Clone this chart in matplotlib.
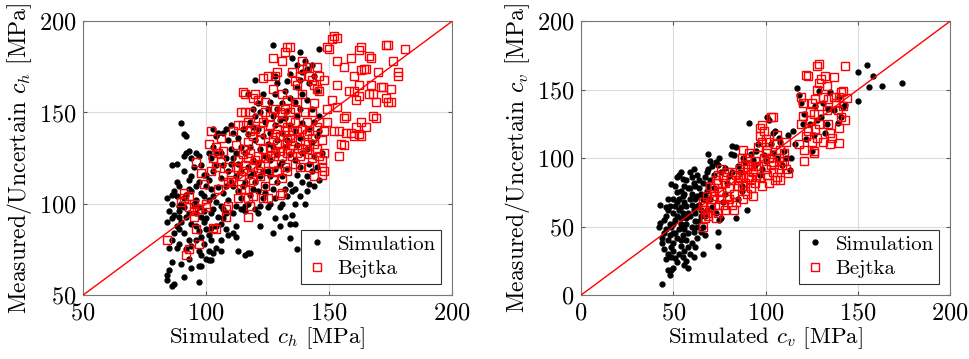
import numpy as np
import matplotlib.pyplot as plt

plt.rcParams['font.family'] = 'serif'
plt.rcParams['font.serif'] = ['cmr10']
plt.rcParams['mathtext.fontset'] = 'cm'
plt.rcParams['axes.formatter.use_mathtext'] = True

# left panel: c_h, Simulation (x, y)
sim_h = [
    (84,58),(84,61),(86,55),(87,56),(85,64),(86,68),(85,76),(84,90),(85,96),(84,103),(86,100),(86,105),
    (87,107),(88,104),(86,92),(87,94),(88,88),(89,86),(86,121),(88,122),(88,112),(89,96),(89,99),(89,93),
    (87,84),(86,80),(88,76),(89,78),(89,110),
    (90,144),(91,138),(92,137),(92,128),(91,126),(93,129),(91,118),(93,113),(94,115),(90,100),(91,98),
    (92,93),(93,95),(94,89),(92,105),(94,107),(90,90),(91,84),(93,80),(94,77),(92,75),(90,67),(91,60),
    (94,65),(93,70),(95,100),(95,120),(94,125),(93,108),(91,103),
    (96,128),(97,126),(98,121),(96,110),(97,112),(98,106),(99,104),(97,98),(96,95),(98,93),(99,90),(96,88),
    (97,85),(98,82),(96,80),(99,78),(97,74),(98,72),(97,66),(98,66),(97,57),(100,70),(100,110),(99,116),
    (96,102),(100,86),(99,96),
    (101,69),(102,69),(101,74),(103,73),(104,76),(102,80),(101,83),(100,92),(102,95),(103,97),(101,102),
    (103,104),(104,101),(102,108),(101,113),(100,116),(103,118),(104,121),(102,125),(104,128),(103,131),
    (105,139),(104,137),(103,141),(101,128),(105,109),(105,93),(104,88),(102,87),
    (106,89),(107,92),(108,95),(106,99),(109,102),(107,106),(108,110),(106,114),(109,118),(107,121),
    (108,125),(106,128),(110,130),(109,135),(107,139),(108,141),(110,143),(106,80),(108,86),(109,83),
    (107,97),(110,112),(110,122),(106,74),
    (111,84),(112,82),(113,74),(111,95),(112,99),(114,103),(113,107),(111,110),(112,115),(114,118),
    (113,122),(111,125),(112,128),(114,131),(113,136),(111,139),(115,141),(114,97),(115,110),(112,88),
    (116,72),(117,73),(118,73),(116,96),(117,100),(118,105),(119,108),(116,112),(118,115),(117,120),
    (119,124),(116,128),(118,131),(120,135),(117,138),(119,142),(118,145),(120,148),(119,152),(120,168),
    (117,160),(116,99),(120,97),(119,117),
    (121,95),(122,99),(123,103),(121,107),(124,110),(122,115),(123,118),(121,122),(124,126),(122,130),
    (125,133),(123,137),(121,141),(124,145),(122,150),(121,155),(125,152),(123,160),(124,106),(125,98),
    (122,88),(125,118),(120,112),
    (127,84),(126,100),(128,103),(127,108),(129,112),(126,115),(128,119),(126,124),(129,127),(127,131),
    (129,135),(126,139),(128,143),(127,148),(129,152),(126,156),(128,160),(129,166),(128,170),(127,187),
    (130,88),(130,98),(130,121),(130,146),(128,92),
    (131,100),(133,104),(132,108),(134,111),(131,115),(133,119),(131,123),(134,127),(132,131),(133,135),
    (131,139),(134,143),(132,147),(133,151),(131,155),(134,158),(132,162),(133,167),(134,81),(134,89),
    (132,93),(135,94),(134,171),(135,180),(135,107),
    (136,100),(136,89),(137,75),(138,104),(136,108),(139,112),(137,116),(138,120),(136,124),(139,128),
    (137,132),(138,136),(136,140),(139,144),(137,148),(138,152),(136,156),(139,160),(137,164),(138,168),
    (139,172),(138,183),(140,100),(140,178),(137,176),
    (141,107),(142,111),(141,115),(143,118),(142,122),(144,126),(141,130),(143,134),(145,137),(142,141),
    (144,145),(146,148),(143,152),(141,157),(145,162),(142,166),(144,170),(141,174),(143,176),(146,185),
    (146,113),(145,120),(147,128),(144,110),(146,140),
]

# left panel: c_h, Bejtka
bej_h = [
    (84,80),(90,101),(91,103),(91,106),(92,72),(93,75),(93,98),(95,100),(95,96),(96,86),(97,78),(96,123),
    (98,117),(99,111),(100,98),(100,100),(93,104),(97,97),(95,93),
    (101,133),(102,140),(103,87),(104,86),(105,108),(104,120),(102,118),(103,125),(106,136),(107,129),
    (108,97),(108,93),(109,99),(107,115),(105,128),(106,123),(109,112),(110,113),(109,120),(104,131),
    (111,140),(112,120),(113,124),(114,115),(111,112),(113,103),(115,161),(116,160),(116,150),(117,145),
    (115,143),(116,130),(118,128),(117,125),(119,120),(115,118),(118,112),(116,108),(117,103),(118,99),
    (117,93),(119,104),(119,158),(120,160),(118,150),(120,141),(114,150),(112,132),(113,143),
    (113,119),(115,127),(117,134),(119,137),(114,108),(116,121),(118,140),(120,124),(119,113),
    (121,157),(122,135),(123,145),(124,150),(123,169),(125,170),(121,118),(122,115),(124,110),(123,103),
    (125,103),(126,131),(127,135),(128,138),(129,141),(126,148),(127,163),(128,170),(129,172),(127,180),
    (128,152),(130,150),(121,126),(124,125),(125,118),(129,118),(127,113),(126,126),(122,140),
    (122,121),(123,130),(125,138),(126,143),(128,128),(129,133),(124,156),(121,147),(127,122),(130,129),
    (131,178),(132,183),(133,186),(134,186),(131,160),(132,152),(133,157),(134,150),(131,145),(132,140),
    (133,135),(134,130),(131,126),(132,120),(133,118),(131,114),(130,105),(131,106),(135,172),(136,167),
    (137,165),(138,170),(139,178),(136,145),(137,140),(138,135),(139,130),(135,126),(136,122),(138,120),
    (137,156),(139,160),(140,150),(134,136),(135,140),(133,128),(139,174),
    (132,133),(134,146),(136,152),(138,126),(135,132),(131,149),(137,128),(139,141),(133,142),(130,137),
    (141,175),(142,170),(143,168),(144,165),(145,175),(146,170),(145,163),(144,155),(143,150),(141,145),
    (142,140),(143,136),(145,130),(146,126),(147,120),(148,118),(147,124),(148,140),(149,145),(149,152),
    (149,186),(150,185),(147,135),(144,115),(141,130),(145,142),(148,168),(146,162),(143,125),
    (141,138),(142,127),(144,133),(146,145),(147,116),(148,128),(142,120),(140,133),
    (152,192),(153,191),(151,190),(151,157),(153,165),(153,153),(152,140),(154,140),(155,133),(156,132),
    (154,126),(156,147),(157,148),(157,139),(159,139),(153,178),(158,162),(156,175),(159,180),(160,170),
    (160,162),
    (160,137),(161,142),(162,138),(163,137),(162,159),(161,157),(162,165),(163,173),(162,184),(163,186),
    (164,174),(165,174),(166,160),(167,165),(166,181),(167,180),(168,160),(168,148),(169,147),(169,156),
    (170,172),(163,145),(165,142),
    (171,164),(172,164),(173,158),(174,156),(173,187),(174,187),(175,163),(176,178),(178,170),(178,172),
    (181,185),(175,156),
]

# right panel: c_v, Simulation
sim_v = [
    (42,50),(43,66),(44,8),(44,38),(45,45),(45,55),(46,58),(47,62),(46,48),(45,34),(47,30),(47,40),
    (48,44),(48,52),(44,42),(46,26),(47,18),(48,15),(43,53),(48,65),(47,70),(46,64),
    (49,81),(49,18),(49,28),(50,32),(50,38),(50,45),(49,50),(51,55),(50,60),(51,65),(50,70),(52,75),
    (51,80),(52,86),(53,88),(52,24),(51,27),(50,52),(52,42),(53,48),(52,58),(53,62),(49,35),(51,45),
    (53,70),(52,68),(50,20),(53,30),
    (54,90),(55,85),(56,80),(54,76),(55,72),(56,68),(54,64),(55,60),(57,56),(54,52),(56,48),(55,44),
    (57,40),(54,36),(56,32),(55,28),(57,25),(56,22),(58,20),(54,40),(58,45),(57,52),(58,60),(56,74),
    (58,78),(57,84),(54,56),(55,50),(58,35),(57,65),
    (59,90),(60,86),(61,82),(59,78),(60,74),(62,70),(60,66),(61,62),(59,58),(62,54),(60,50),(61,46),
    (63,42),(60,38),(62,35),(59,30),(61,28),(63,50),(62,60),(63,65),(62,80),(63,88),(61,92),(63,72),
    (59,70),
    (64,78),(65,74),(66,70),(64,66),(65,62),(67,58),(64,54),(66,50),(65,46),(67,44),(64,84),(66,82),
    (67,86),(68,90),(66,30),(68,62),(65,58),(67,72),(68,76),
    (69,103),(69,80),(70,84),(72,88),(71,94),(73,97),(75,100),(74,95),(72,78),(70,70),(71,64),(73,60),
    (75,55),(74,46),(74,36),(76,56),(77,68),(78,74),(79,82),(80,87),(78,93),(76,90),(69,92),(70,98),
    (81,103),(82,109),(83,102),(84,56),(85,94),(86,90),(87,80),(88,100),(89,97),(90,62),(91,126),
    (92,103),(93,99),(94,95),(95,105),(96,110),(97,88),(98,92),(99,102),(100,98),(85,70),(82,90),
    (84,108),(87,76),
    (101,130),(102,128),(103,110),(104,104),(105,120),(106,100),(107,115),(108,112),(109,95),(110,105),
    (112,117),(113,91),(114,100),(115,120),(116,110),(117,151),(118,146),(119,140),(120,125),(104,118),
    (111,100),
    (121,132),(122,114),(124,125),(125,105),(127,138),(128,128),(129,149),(130,130),(131,140),(133,125),
    (134,136),(135,148),(137,135),(139,126),(140,145),(141,130),(142,137),(143,139),(126,117),(132,118),
    (150,163),(150,142),(155,168),(156,152),(158,160),(163,153),(174,155),
]

# right panel: c_v, Bejtka
bej_v = [
    (66,50),(66,65),(66,68),(67,62),(68,60),(69,58),(70,64),(71,70),(72,78),(73,84),(74,88),(74,60),
    (75,66),(72,72),(73,56),(70,80),(68,72),(67,56),(75,75),(74,82),
    (76,92),(77,86),(76,70),(77,66),(78,62),(79,72),(80,78),(81,84),(82,66),(83,74),(84,68),(84,88),
    (85,80),(78,82),(80,70),(82,90),(76,76),(79,90),(83,62),(85,84),
    (86,92),(87,100),(88,106),(89,96),(88,88),(87,80),(89,76),(90,74),(91,86),(92,94),(93,90),(94,82),
    (90,100),(91,104),(92,78),(93,72),(94,98),(95,86),(86,86),(89,82),(95,94),(90,92),(92,85),(88,70),
    (96,108),(97,116),(98,124),(99,120),(100,114),(101,106),(102,100),(103,95),(104,90),(105,84),
    (96,94),(97,86),(98,80),(99,100),(100,92),(101,88),(102,82),(103,130),(104,130),(98,112),(97,122),
    (100,104),(102,112),(104,97),
    (106,117),(106,86),(107,100),(108,106),(109,95),(110,98),(111,92),(112,89),(107,92),(105,110),
    (108,84),(110,104),(111,112),
    (118,110),(119,125),(119,145),(120,131),(120,140),(121,98),(121,106),(122,116),(122,161),(123,160),
    (124,134),(124,128),(125,112),(125,140),(126,105),(126,104),(127,121),(127,143),(128,150),(128,167),
    (129,169),(129,155),(130,158),(130,138),(129,125),(123,120),(128,115),(126,132),
    (131,145),(132,160),(133,153),(134,143),(135,118),(135,110),(136,115),(137,159),(138,140),(139,135),
    (140,145),(140,122),(140,111),(141,148),(141,130),(142,149),(143,128),(143,167),(144,144),(134,125),
    (137,145),(142,138),(131,112),(133,135),
]

panels = [
    (sim_h, bej_h, (50, 200), 'h'),
    (sim_v, bej_v, (0, 200), 'v'),
]
lefts = [0.0857, 0.5996]

fig = plt.figure(figsize=(9.69, 3.59), dpi=100)
for (sim, bej, lim, sub), left in zip(panels, lefts):
    ax = fig.add_axes([left, 0.178, 0.381, 0.763])
    sim = np.array(sim)
    bej = np.array(bej)
    ax.plot(sim[:, 0], sim[:, 1], 'k.', ms=7, mec='k', label='Simulation', zorder=2)
    ax.plot(bej[:, 0], bej[:, 1], 's', ms=5.5, mfc='none', mec='#ff0000', mew=1.0,
            label='Bejtka', zorder=3)
    ax.plot(lim, lim, '-', color='#ff0000', lw=1.0, zorder=4)
    ax.set_xlim(lim)
    ax.set_ylim(lim)
    ax.set_xticks(np.arange(lim[0], 201, 50))
    ax.set_yticks(np.arange(lim[0], 201, 50))
    ax.grid(True, color='#dcdcdc', lw=0.8)
    ax.set_axisbelow(True)
    ax.tick_params(direction='in', top=True, right=True, labelsize=17.5, length=3,
                   color='#555555', pad=5)
    for s in ax.spines.values():
        s.set_color('#777777')
        s.set_linewidth(0.8)
    ax.set_xlabel(r'Simulated $c_%s$ [MPa]' % sub, fontsize=16.5, labelpad=1)
    ax.set_ylabel(r'Measured/Uncertain $c_%s$ [MPa]' % sub, fontsize=17, labelpad=3)
    leg = ax.legend(loc='lower right', fontsize=15, fancybox=False, framealpha=1,
                    edgecolor='#333333', handletextpad=0.5, borderpad=0.25,
                    handlelength=1.0, borderaxespad=0.55, labelspacing=0.3)
    leg.get_frame().set_linewidth(0.8)

fig.savefig('out.png', dpi=100)
